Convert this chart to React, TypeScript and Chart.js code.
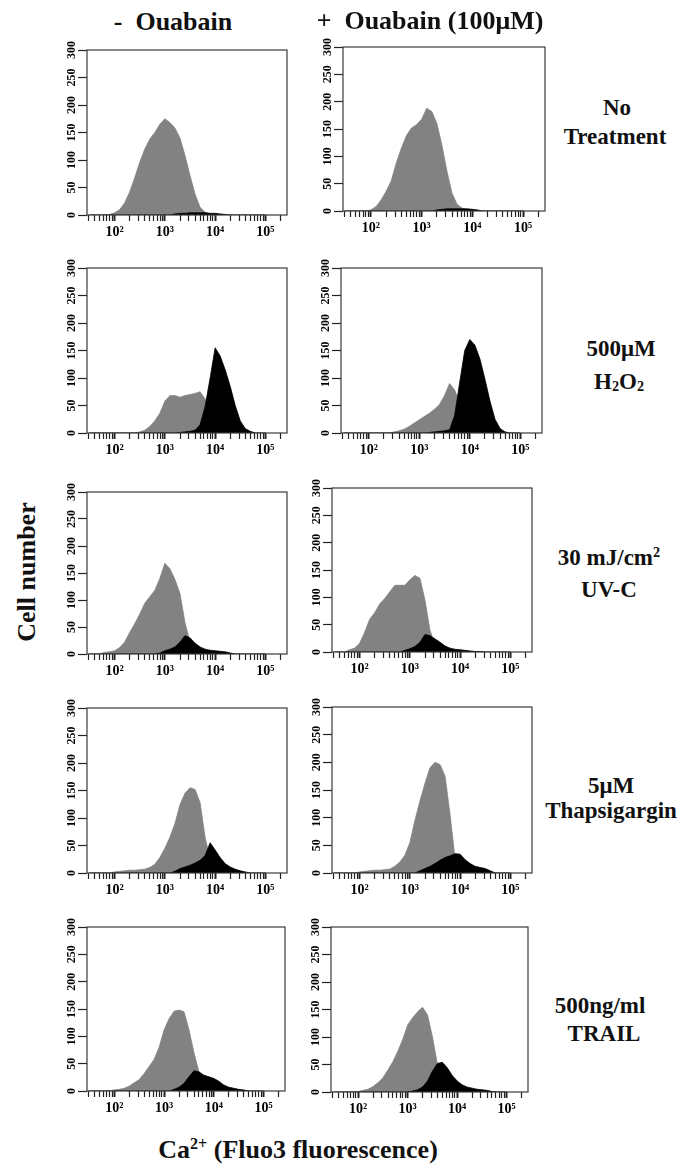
import React, { useEffect, useRef } from 'react';
import { Chart, registerables } from 'chart.js';

Chart.register(...registerables);

const SERIF = '"Liberation Serif", "DejaVu Serif", "Times New Roman", serif';
const GRAY = '#828282';

// Bin centres of the histograms (log10 of Fluo3 fluorescence)
const binLog = [1.5, 1.6, 1.7, 1.8, 1.9, 2.0, 2.1, 2.2, 2.3, 2.4, 2.5, 2.6, 2.7, 2.8, 2.9, 3.0, 3.1, 3.2, 3.3, 3.4, 3.5, 3.6, 3.7, 3.8, 3.9, 4.0, 4.1, 4.2, 4.3, 4.4, 4.5, 4.6, 4.7, 4.8, 4.9, 5.0];

// Axis ticks
const xTickValues = [30, 40, 50, 60, 70, 80, 90, 100, 200, 300, 400, 500, 600, 700, 800, 900, 1000, 2000, 3000, 4000, 5000, 6000, 7000, 8000, 9000, 10000, 20000, 30000, 40000, 50000, 60000, 70000, 80000, 90000, 100000, 200000];
const xLabelValues = [100, 1000, 10000, 100000];
const xLabelTexts = ['10²', '10³', '10⁴', '10⁵'];
const yTickValues = [0, 50, 100, 150, 200, 250, 300];

// Cell counts per bin (starting at bin 1.5); gray = control, black = treated
const noTxMinusGray = [0, 0, 0, 0, 1, 4, 10, 22, 42, 68, 96, 120, 138, 150, 165, 175, 168, 158, 140, 108, 72, 38, 14, 5, 2, 1];
const noTxMinusBlack = [0, 0, 0, 0, 0, 0, 0, 0, 0, 0, 0, 0, 0, 0, 0, 0, 0, 2, 3, 3, 4, 4, 4, 4, 3, 3, 2, 1];
const noTxPlusGray = [0, 0, 0, 0, 0, 2, 8, 20, 36, 55, 88, 115, 138, 152, 158, 168, 188, 182, 160, 120, 72, 32, 12, 5, 2, 1];
const noTxPlusBlack = [0, 0, 0, 0, 0, 0, 0, 0, 0, 0, 0, 0, 0, 0, 0, 0, 0, 0, 2, 3, 4, 4, 4, 4, 4, 3, 2];

const h2o2MinusGray = [0, 0, 0, 0, 0, 0, 0, 0, 0, 0, 2, 5, 12, 22, 36, 58, 68, 68, 65, 68, 70, 72, 75, 62, 40, 18, 6, 2];
const h2o2MinusBlack = [0, 0, 0, 0, 0, 0, 0, 0, 0, 0, 0, 0, 0, 0, 0, 0, 0, 0, 1, 2, 3, 5, 15, 48, 100, 155, 140, 115, 85, 50, 22, 8, 3];
const h2o2PlusGray = [0, 0, 0, 0, 0, 0, 0, 0, 0, 0, 2, 4, 7, 12, 18, 24, 30, 36, 43, 52, 68, 90, 78, 55, 30, 12, 4];
const h2o2PlusBlack = [0, 0, 0, 0, 0, 0, 0, 0, 0, 0, 0, 0, 0, 0, 0, 0, 0, 1, 2, 3, 4, 6, 32, 92, 150, 170, 160, 135, 98, 58, 25, 8, 2];

const uvMinusGray = [0, 0, 0, 3, 4, 6, 12, 22, 40, 56, 74, 94, 106, 118, 140, 168, 158, 138, 112, 58, 22, 8, 3];
const uvMinusBlack = [0, 0, 0, 0, 0, 0, 0, 0, 0, 0, 0, 0, 0, 0, 2, 6, 9, 13, 22, 34, 30, 20, 13, 9, 7, 6, 5, 4, 2];
const uvPlusGray = [0, 0, 0, 4, 7, 16, 36, 60, 72, 88, 98, 110, 122, 122, 122, 132, 140, 135, 95, 40, 12, 4];
const uvPlusBlack = [0, 0, 0, 0, 0, 0, 0, 0, 0, 0, 0, 0, 0, 0, 3, 6, 10, 18, 32, 30, 24, 18, 11, 7, 5, 4, 3, 2, 1, 1];

const tgMinusGray = [0, 0, 0, 0, 0, 2, 3, 4, 5, 5, 6, 7, 10, 16, 28, 45, 65, 90, 124, 145, 155, 152, 128, 65, 25, 8, 2];
const tgMinusBlack = [0, 0, 0, 0, 0, 0, 0, 0, 0, 0, 0, 0, 0, 0, 0, 0, 0, 3, 8, 11, 14, 18, 23, 32, 55, 42, 28, 17, 11, 7, 4, 2];
const tgPlusGray = [0, 0, 0, 0, 0, 2, 3, 4, 5, 5, 6, 7, 12, 20, 32, 55, 95, 130, 162, 190, 200, 196, 175, 105, 25, 8, 2];
const tgPlusBlack = [0, 0, 0, 0, 0, 0, 0, 0, 0, 0, 0, 0, 0, 0, 0, 0, 0, 4, 8, 12, 17, 23, 28, 31, 35, 34, 24, 17, 12, 10, 8, 4];

const trailMinusGray = [0, 0, 0, 0, 0, 2, 3, 5, 9, 15, 21, 32, 45, 58, 80, 112, 132, 146, 148, 145, 112, 70, 35, 15, 5, 1];
const trailMinusBlack = [0, 0, 0, 0, 0, 0, 0, 0, 0, 0, 0, 0, 0, 0, 0, 0, 0, 3, 7, 14, 26, 37, 35, 29, 26, 23, 18, 11, 7, 5, 3, 2];
const trailPlusGray = [0, 0, 0, 0, 0, 1, 3, 5, 10, 17, 26, 40, 55, 74, 96, 122, 135, 146, 154, 140, 100, 50, 18, 6, 2];
const trailPlusBlack = [0, 0, 0, 0, 0, 0, 0, 0, 0, 0, 0, 0, 0, 0, 0, 0, 2, 4, 9, 20, 38, 52, 54, 44, 30, 20, 13, 9, 7, 5, 4, 3, 1];

type PanelSpec = { box: [number, number, number, number]; gray: number[]; black: number[] };

const panels: PanelSpec[] = [
  { box: [87, 50, 287, 215], gray: noTxMinusGray, black: noTxMinusBlack },
  { box: [343, 47, 545, 211], gray: noTxPlusGray, black: noTxPlusBlack },
  { box: [87, 268, 287, 433], gray: h2o2MinusGray, black: h2o2MinusBlack },
  { box: [341, 268, 542, 433], gray: h2o2PlusGray, black: h2o2PlusBlack },
  { box: [87, 492, 287, 654], gray: uvMinusGray, black: uvMinusBlack },
  { box: [332, 488, 532, 652], gray: uvPlusGray, black: uvPlusBlack },
  { box: [87, 708, 287, 873], gray: tgMinusGray, black: tgMinusBlack },
  { box: [332, 707, 532, 873], gray: tgPlusGray, black: tgPlusBlack },
  { box: [87, 927, 285, 1091], gray: trailMinusGray, black: trailMinusBlack },
  { box: [331, 927, 528, 1092], gray: trailPlusGray, black: trailPlusBlack },
];

const boxBorder = {
  id: 'boxBorder',
  afterDatasetsDraw(chart: any) {
    const { ctx, chartArea: a } = chart;
    ctx.save();
    ctx.strokeStyle = '#3a3a3a';
    ctx.lineWidth = 1.2;
    ctx.strokeRect(a.left, a.top, a.right - a.left, a.bottom - a.top);
    ctx.restore();
  },
};

// Rotated (bottom-to-top) y tick labels placed at the y scale's own tick pixels
const yRotatedLabels = {
  id: 'yRotatedLabels',
  afterDraw(chart: any) {
    const s = chart.scales.y;
    const ctx = chart.ctx;
    ctx.save();
    ctx.font = 'bold 12px ' + SERIF;
    ctx.fillStyle = '#000';
    ctx.textAlign = 'center';
    ctx.textBaseline = 'middle';
    s.ticks.forEach((t: any) => {
      const py = s.getPixelForValue(t.value);
      ctx.save();
      ctx.translate(s.right - 15.5, py);
      ctx.rotate(-Math.PI / 2);
      ctx.fillText(String(t.value), 0, 0);
      ctx.restore();
    });
    ctx.restore();
  },
};

const PAD_L = 45, PAD_T = 12, PAD_R = 12, PAD_B = 30;

function Panel({ spec }: { spec: PanelSpec }) {
  const ref = useRef<HTMLCanvasElement>(null);
  const [L, T, R, B] = spec.box;
  const w = R - L + PAD_L + PAD_R;
  const h = B - T + PAD_T + PAD_B;

  useEffect(() => {
    const toPts = (arr: number[]) => binLog.map((b, i) => ({ x: Math.pow(10, b), y: arr[i] ?? 0 }));
    const chart = new Chart(ref.current as HTMLCanvasElement, {
      type: 'line',
      data: {
        datasets: [
          { data: toPts(spec.black), order: 0, fill: 'origin', backgroundColor: '#000', borderColor: '#000', borderWidth: 0.8, pointRadius: 0, tension: 0 },
          { data: toPts(spec.gray), order: 1, fill: 'origin', backgroundColor: GRAY, borderColor: GRAY, borderWidth: 0.8, pointRadius: 0, tension: 0 },
        ],
      },
      options: {
        responsive: false,
        animation: false,
        devicePixelRatio: 1,
        events: [],
        layout: { padding: { left: 0, top: PAD_T, right: PAD_R, bottom: 0 } },
        plugins: { legend: { display: false }, tooltip: { enabled: false } },
        scales: {
          x: {
            type: 'logarithmic',
            min: Math.pow(10, 1.45),
            max: Math.pow(10, 5.43),
            afterBuildTicks: (s: any) => { s.ticks = xTickValues.map((v) => ({ value: v })); },
            afterFit: (s: any) => { s.height = PAD_B; },
            ticks: {
              autoSkip: false,
              maxRotation: 0,
              minRotation: 0,
              padding: 3,
              color: '#000',
              font: { family: SERIF, size: 14, weight: 'bold' },
              callback: (v: any) => {
                const k = xLabelValues.indexOf(Number(v));
                return k >= 0 ? xLabelTexts[k] : '';
              },
            },
            grid: {
              drawOnChartArea: false,
              drawTicks: true,
              tickLength: 6,
              tickColor: '#222',
              tickWidth: (c: any) => (c.tick && xLabelValues.includes(c.tick.value) ? 2 : 1.2),
            },
            border: { display: false },
          },
          y: {
            type: 'linear',
            min: 0,
            max: 300,
            afterBuildTicks: (s: any) => { s.ticks = yTickValues.map((v) => ({ value: v })); },
            afterFit: (s: any) => { s.width = PAD_L; },
            ticks: { display: false },
            grid: { drawOnChartArea: false, drawTicks: true, tickLength: 9, tickColor: '#222', tickWidth: 1.2 },
            border: { display: false },
          },
        },
      } as any,
      plugins: [boxBorder, yRotatedLabels],
    });
    return () => chart.destroy();
  }, []);

  return (
    <canvas
      ref={ref}
      width={w}
      height={h}
      style={{ position: 'absolute', left: L - PAD_L, top: T - PAD_T, width: w, height: h, display: 'block' }}
    />
  );
}

function Label({ x, y, size, children, rotate }: { x: number; y: number; size: number; children: any; rotate?: boolean }) {
  return (
    <div
      style={{
        position: 'absolute',
        left: x,
        top: y,
        transform: `translate(-50%, -50%)${rotate ? ' rotate(-90deg)' : ''}`,
        fontFamily: SERIF,
        fontWeight: 'bold',
        fontSize: size,
        lineHeight: 1,
        whiteSpace: 'pre',
        color: '#111',
        textAlign: 'center',
      }}
    >
      {children}
    </div>
  );
}

const supStyle: React.CSSProperties = { fontSize: '0.62em', verticalAlign: '0.55em', lineHeight: 0 };
const subStyle: React.CSSProperties = { fontSize: '0.62em', verticalAlign: '-0.2em', lineHeight: 0 };

export default function App() {
  return (
    <div style={{ position: 'absolute', left: 0, top: 0, width: 679, height: 1165, background: '#fff', overflow: 'hidden' }}>
      {panels.map((p, i) => (
        <Panel key={i} spec={p} />
      ))}
      <Label x={173} y={22} size={26}>{'-  Ouabain'}</Label>
      <Label x={430} y={21} size={26}>{'+  Ouabain (100μM)'}</Label>

      <Label x={617} y={107} size={23}>No</Label>
      <Label x={615} y={136} size={23}>Treatment</Label>

      <Label x={621} y={348} size={23}>500μM</Label>
      <Label x={619} y={381} size={23}>H<span style={subStyle}>2</span>O<span style={subStyle}>2</span></Label>

      <Label x={609} y={557} size={23}>30 mJ/cm<span style={supStyle}>2</span></Label>
      <Label x={609} y={589} size={23}>UV-C</Label>

      <Label x={611} y={785} size={23}>5μM</Label>
      <Label x={611} y={810} size={23}>Thapsigargin</Label>

      <Label x={600} y={1005} size={23}>500ng/ml</Label>
      <Label x={604} y={1033} size={23}>TRAIL</Label>

      <Label x={27} y={572} size={26} rotate>Cell number</Label>
      <Label x={298} y={1150} size={26}>Ca<span style={supStyle}>2+</span> (Fluo3 fluorescence)</Label>
    </div>
  );
}
